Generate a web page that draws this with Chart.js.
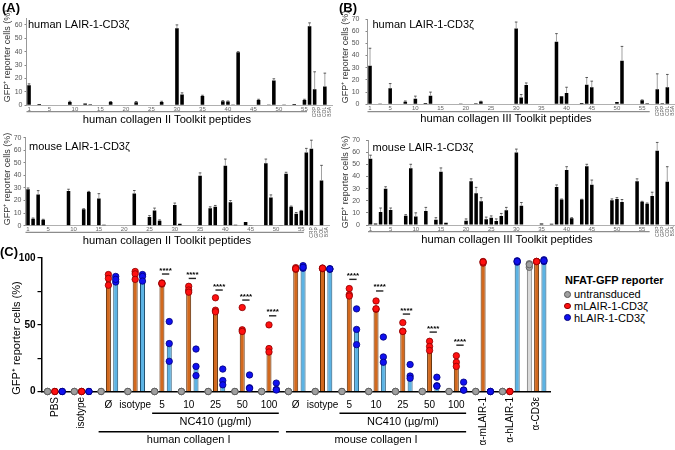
<!DOCTYPE html>
<html>
<head>
<meta charset="utf-8">
<script src="https://cdn.jsdelivr.net/npm/chart.js@4.4.1/dist/chart.umd.min.js"></script>
<style>
html,body{margin:0;padding:0;background:#fff;}
body{position:relative;width:675px;height:450px;overflow:hidden;font-family:"Liberation Sans",Arial,Helvetica,sans-serif;}
canvas{position:absolute;}
.t{position:absolute;white-space:nowrap;line-height:1;}
.dot{position:absolute;border-radius:50%;box-sizing:border-box;}
</style>
</head>
<body>
<canvas id="aTop" width="334" height="127" style="left:0;top:0"></canvas>
<canvas id="aBot" width="334" height="121" style="left:0;top:127px"></canvas>
<canvas id="bTop" width="340" height="127" style="left:335px;top:0"></canvas>
<canvas id="bBot" width="340" height="121" style="left:335px;top:127px"></canvas>
<canvas id="cChart" width="555" height="200" style="left:0;top:250px"></canvas>
<script>
// ---------------- DATA ----------------
const controlLabels = ['CRP', 'GPP', 'COL', 'BSA'];
const shownTicks = ['1','5','10','15','20','25','30','35','40','45','50','55'];
const colIIPeptideCount = 56;
const colIIIPeptideCount = 57;

// (A) human LAIR-1-CD3ζ on collagen II Toolkit (56 peptides + 4 controls)
const humanColII = [15,0,1,0,0,0,0,0,2.5,0, 0,1.3,0.8,0,0,0,2.4,0,0,0, 0,2.3,0,0,0,0.4,2.4,0,0,57.5,
  8,0,0,0,7,0.5,0,0.5,3,2.8, 0.3,39.5,0,0.5,0,4,0,0.3,18.5,0, 0.2,0,1,0,4,59, 12,0.5,14,0];
const humanColIISD = [1,0,0,0,0,0,0,0,0.5,0, 0,0,0,0,0,0,0.4,0,0,0, 0,0.5,0,0,0,0,0.6,0,0,2.5,
  1.3,0,0,0,0.5,0,0,0,0.5,0.4, 0,0.5,0,0,0,0.5,0,0,1.3,0, 0,0,0,0,0.5,2.5, 13,0,10,0];

// (A) mouse LAIR-1-CD3ζ on collagen II Toolkit
const mouseColII = [28.9,5.6,24.9,4.8,0,0,0,0,27.6,0, 0,13,26.8,0,21.7,0.8,0,0,0.3,0, 0,25.7,0.3,0,7,12,4,0,0,16.4,
  1.5,0,0,0,39.8,0.3,13.8,15.1,0,47.7, 18.6,0.8,0,2.9,0.5,0,0,49.6,22.5,0, 0.5,41.4,15.1,9.5,11.9,58.3, 61.3,0.3,36,0];
const mouseColIISD = [1.1,0.5,3,0.3,0,0,0,0,1.4,0, 0,0.5,0.5,0,3.8,0,0,0,0,0, 0,2.3,0,0,1,2,0.6,0,0,1.6,
  0,0,0,0,2.2,0,1.2,1,0,5.3, 1.4,0,0,0,0,0,0,3.4,2,0, 0,1.1,0.5,1,0.3,3.2, 6.7,0,12,0];

// (B) human LAIR-1-CD3ζ on collagen III Toolkit (57 peptides + 4 controls)
const humanColIII = [31.7,0,0.3,0,13.1,0,0,2,0,4.6, 0,1,7.1,0.5,0,0,0,0,0.3,0, 0,0.8,2.2,0,0,0,0,0,0,62.3,
  5.5,15.9,0,0,0,0,0,51.4,6.6,9.3, 0,0,1,16.1,13.9,0,0,0,0,1.8, 35.8,0,0,0.5,3.3,0.8,0, 12.3,0.8,13.9,0];
const humanColIIISD = [14.3,0,0,0,3.9,0,0,0.7,0,2.1, 0,0,2.9,0,0,0,0,0,0,0, 0,0,0.3,0,0,0,0,0,0,5.2,
  2.5,1.6,0,0,0,0,0,6.6,0,4.7, 0,0,0,5.9,5.1,0,0,0,0,0, 11.7,0,0,0,0.3,0,0, 12.7,0,10.6,0];

// (B) mouse LAIR-1-CD3ζ on collagen III Toolkit
const mouseColIII = [54.6,1.2,10.7,29.9,12.4,0,0,7.7,46.7,6.9, 0,11.5,0,4.4,43.9,1.8,0,0,0,3.6, 36,26.1,19.5,4.7,6,3.3,7.4,12.1,0,59.8,
  15.9,0,0,0,1.3,0,1.0,31.3,20.9,45.3, 5.5,0,20.9,48.3,33.2,0,0,0,20.3,21.4, 18.9,0,0,36,19.2,17.6,23.9, 61.2,0.5,35.7,0];
const mouseColIIISD = [2.9,0,3.3,1.6,1.6,0,0,0.8,3.3,3.1, 0,3,0,1.6,3.1,0,0,0,0,1.4, 2,4.9,3,1.8,1.5,1.7,2.1,2.4,0,2.7,
  2.6,0,0,0,0,0,0,1.7,0.5,2.7, 0.5,0,0.3,1.7,3.8,0,0,0,1.2,1.1, 2.1,0,0,2,0.3,0.5,3.1, 6.8,0,12.3,0];

// (C) NFAT-GFP reporter with NC410 blocking
const cGroups = ['PBS','isotype','Ø','isotype','5','10','25','50','100','Ø','isotype','5','10','25','50','100','α-mLAIR-1','α-hLAIR-1','α-CD3ε'];
const untransducedBars = [0,0,0,0,0,0,0,0,0,0,0,0,0,0,0,0,0,0,95];
const mLAIRBars = [0,0,85,87,81,76,61,46,31,92,92.3,72.6,62,45.2,33.7,21.9,97,0,97.4];
const hLAIRBars = [0,0,84,86.2,35.9,18.8,8.2,2.8,1.6,93,91.8,46.5,25.9,11.6,4.3,1.1,0,97.5,98];
const untransducedReps = [[0,0,0],[0,0,0],[0,0,0],[0,0,0],[0,0,0],[0,0,0],[0,0,0],[0,0,0],[0,0,0],[0,0,0],
  [0,0,0],[0,0,0],[0,0,0],[0,0,0],[0,0,0],[0,0,0],[0,0,0],[0,0,0],[95.7,93,95]];
const mLAIRReps = [[0,0,0],[0,0,0],[87.6,84.7,79.6],[89.9,88.1,84],[81.3,80.5,81],[78.8,76,74.4],[70.2,60.9,59.7],
  [62.9,46.2,45],[49.9,32.2,29.6],[92.8,91.5,92],[92.5,92,92.3],[77.1,72.6,71.5],[67.8,61.6,62],[51.6,45.2,45],
  [37.6,33.7,30.7],[26.8,21.9,18.8],[97.4,96.2,97],[0,0,0],[97.4,97.4,97.4]];
const hLAIRReps = [[0,0,0],[0,0,0],[86.2,82,84],[87.6,86.2,82.7],[52.4,35.9,22.6],[31.8,18.8,11.9],[16.8,8.2,5],
  [12.4,2.8,2.3],[6.3,1.6,1.1],[94.3,92.3,93],[91.5,92,91.8],[61.9,46.5,35.1],[40.8,25.9,21.9],[20.2,11.6,9.9],
  [10.7,4.3,4],[7,1.1,1],[0,0,0],[97.9,96.9,97.5],[98.7,97.4,98]];
const sigGroups = [4,5,6,7,8,11,12,13,14,15];
const sigLevels = [88,84.7,76,68.5,56.7,84,75.3,58,44.5,34.7];
const sigText = '****';
const brackets = [
  {from:4, to:8, text:'NC410 (µg/ml)', row:0},
  {from:2, to:8, text:'human collagen I', row:1},
  {from:11, to:15, text:'NC410 (µg/ml)', row:0},
  {from:9, to:15, text:'mouse collagen I', row:1}
];
const legendTitle = 'NFAT-GFP reporter';
const seriesNames = ['untransduced', 'mLAIR-1-CD3ζ', 'hLAIR-1-CD3ζ'];

// ---------------- STYLE / HELPERS ----------------
const FF = '"Liberation Sans", Arial, Helvetica, sans-serif';
Chart.defaults.font.family = FF;
const dotFill = ['#a0a0a0', '#ff1010', '#1010f0'];
const dotEdge = ['#555555', '#8a0000', '#00007a'];
const barFill = ['#dadada', '#d2691e', '#5cb3e4'];
const barEdge = ['#6a6a6a', '#5a2a05', '#1f4f6e'];

function addText(txt, x, y, size, o) {
  o = o || {};
  const d = document.createElement('div');
  d.className = 't';
  d.textContent = txt;
  d.style.fontSize = size + 'px';
  if (o.bold) d.style.fontWeight = 'bold';
  d.style.color = o.color || '#000';
  d.style.left = x + 'px';
  d.style.top = y + 'px';
  const ax = o.anchor === 'left' ? '0' : '-50%';
  d.style.transform = 'translate(' + ax + ',-50%)' + (o.rot ? ' rotate(-90deg)' : '');
  document.body.appendChild(d);
}

const errPlugin = {
  id: 'errbars',
  afterDatasetsDraw(chart, args, o) {
    const errs = o.errors; if (!errs) return;
    const meta = chart.getDatasetMeta(0), ys = chart.scales.y, ctx = chart.ctx;
    const vals = chart.data.datasets[0].data;
    ctx.save();
    ctx.lineWidth = 0.8;
    meta.data.forEach((bar, i) => {
      const sd = errs[i]; if (!sd) return;
      const y1 = ys.getPixelForValue(vals[i]), y2 = ys.getPixelForValue(vals[i] + sd);
      ctx.strokeStyle = '#8a8a8a';
      ctx.beginPath(); ctx.moveTo(bar.x, y1); ctx.lineTo(bar.x, y2); ctx.stroke();
      ctx.strokeStyle = '#333';
      ctx.beginPath(); ctx.moveTo(bar.x - 1.3, y2); ctx.lineTo(bar.x + 1.3, y2); ctx.stroke();
    });
    ctx.restore();
  }
};

const toolkitPlugin = {
  id: 'toolkit',
  afterDraw(chart, args, o) {
    const xs = chart.scales.x, ctx = chart.ctx, b = chart.chartArea.bottom;
    const half = (xs.getPixelForValue(1) - xs.getPixelForValue(0)) / 2;
    ctx.save();
    ctx.strokeStyle = '#8c8c8c'; ctx.lineWidth = 1.3;
    const y = b + o.lineOffset;
    ctx.beginPath(); ctx.moveTo(xs.left, y); ctx.lineTo(xs.getPixelForValue(o.nPep - 2) + half, y); ctx.stroke();
    ctx.fillStyle = '#555'; ctx.font = '5px ' + FF;
    ctx.textAlign = 'right'; ctx.textBaseline = 'middle';
    controlLabels.forEach((lab, k) => {
      ctx.save();
      ctx.translate(xs.getPixelForValue(o.nPep + k), b + 1.5);
      ctx.rotate(-Math.PI / 2);
      ctx.fillText(lab, 0, 0);
      ctx.restore();
    });
    ctx.restore();
  }
};

function toolkitChart(id, values, sds, nPep, g) {
  const labels = [];
  for (let i = 1; i <= nPep; i++) labels.push(String(i));
  controlLabels.forEach(c => labels.push(c));
  return new Chart(document.getElementById(id), {
    type: 'bar',
    data: { labels, datasets: [{ data: values, backgroundColor: '#000', barPercentage: 0.7, categoryPercentage: 1 }] },
    options: {
      responsive: false, animation: false, events: [],
      layout: { padding: { top: g.padTop, right: g.padRight, left: 0, bottom: 0 } },
      plugins: { legend: { display: false }, tooltip: { enabled: false },
        errbars: { errors: sds }, toolkit: { nPep, lineOffset: g.lineOffset } },
      scales: {
        x: {
          grid: { display: false, drawTicks: false, tickLength: 0 }, border: { display: true, color: '#b0b0b0', width: 1 },
          ticks: { autoSkip: false, maxRotation: 0, minRotation: 0, padding: 0.5, color: '#666', font: { size: 6 },
            callback: (v, i) => shownTicks.includes(labels[i]) ? labels[i] : '' },
          afterFit: s => { s.height = g.xH; }
        },
        y: {
          min: 0, max: g.max,
          grid: { drawOnChartArea: false, tickLength: 2, color: '#888' },
          border: { color: '#999', width: 1 },
          ticks: { stepSize: 10, includeBounds: false, padding: g.tickPad, color: '#555', font: { size: 7 } },
          afterFit: s => { s.width = g.yW; }
        }
      }
    },
    plugins: [errPlugin, toolkitPlugin]
  });
}

toolkitChart('aTop', humanColII, humanColIISD, colIIPeptideCount, { padTop: 18.2, padRight: 1.5, xH: 21.7, yW: 26.5, max: 65, lineOffset: 6.4, tickPad: 2 });
toolkitChart('aBot', mouseColII, mouseColIISD, colIIPeptideCount, { padTop: 10.7, padRight: 4.9, xH: 22.3, yW: 25.5, max: 70, lineOffset: 6.6, tickPad: 2 });
toolkitChart('bTop', humanColIII, humanColIIISD, colIIIPeptideCount, { padTop: 19, padRight: 0.1, xH: 22.7, yW: 32.5, max: 70, lineOffset: 7.4, tickPad: 6 });
toolkitChart('bBot', mouseColIII, mouseColIIISD, colIIIPeptideCount, { padTop: 13, padRight: 0.2, xH: 23, yW: 33, max: 70, lineOffset: 6.7, tickPad: 6 });

// ---------------- PANEL C ----------------
const rotatedLabels = [0, 1, 16, 17, 18];
const replicateSets = [untransducedReps, mLAIRReps, hLAIRReps];

const cPlugin = {
  id: 'cdecor',
  afterDatasetsDraw(chart) {
    const ctx = chart.ctx, y = chart.scales.y;
    ctx.save();
    // replicate dots, placed on each bar's x through the bar elements and the y scale
    replicateSets.forEach((reps, k) => {
      const meta = chart.getDatasetMeta(k);
      ctx.fillStyle = dotFill[k]; ctx.strokeStyle = dotEdge[k]; ctx.lineWidth = 0.8;
      reps.forEach((r, i) => {
        const bx = meta.data[i].x;
        r.forEach(v => {
          ctx.beginPath(); ctx.arc(bx, y.getPixelForValue(v), 3.2, 0, Math.PI * 2);
          ctx.fill(); ctx.stroke();
        });
      });
    });
    // significance marks between mLAIR and hLAIR bars
    const mMeta = chart.getDatasetMeta(1), hMeta = chart.getDatasetMeta(2);
    sigGroups.forEach((gi, k) => {
      const yy = y.getPixelForValue(sigLevels[k]);
      const x1 = mMeta.data[gi].x, x2 = hMeta.data[gi].x;
      ctx.strokeStyle = '#222'; ctx.lineWidth = 1.4;
      ctx.beginPath(); ctx.moveTo(x1, yy); ctx.lineTo(x2, yy); ctx.stroke();
      ctx.fillStyle = '#000'; ctx.font = 'bold 8px ' + FF;
      ctx.textAlign = 'center'; ctx.textBaseline = 'middle';
      ctx.fillText(sigText, (x1 + x2) / 2, yy - 3.7);
    });
    ctx.restore();
  },
  afterDraw(chart) {
    const ctx = chart.ctx, xc = chart.scales.x, b = chart.chartArea.bottom;
    const w = xc.getPixelForValue(1) - xc.getPixelForValue(0);
    ctx.save();
    ctx.fillStyle = '#000';
    ctx.font = '10px ' + FF;
    cGroups.forEach((lab, i) => {
      const x = xc.getPixelForValue(i);
      if (rotatedLabels.includes(i)) {
        ctx.save();
        ctx.translate(x, b + 5.5);
        ctx.rotate(-Math.PI / 2);
        ctx.textAlign = 'right'; ctx.textBaseline = 'middle';
        ctx.fillText(lab, 0, 0);
        ctx.restore();
      } else {
        ctx.textAlign = 'center'; ctx.textBaseline = 'middle';
        ctx.fillText(lab, x, b + 13.5);
      }
    });
    const lineY = [21.8, 40.2], textY = [30.2, 48.5];
    ctx.font = '11px ' + FF;
    ctx.strokeStyle = '#000'; ctx.lineWidth = 1.5;
    brackets.forEach(br => {
      const x1 = xc.getPixelForValue(br.from) - 0.366 * w, x2 = xc.getPixelForValue(br.to) + 0.366 * w;
      ctx.beginPath(); ctx.moveTo(x1, b + lineY[br.row]); ctx.lineTo(x2, b + lineY[br.row]); ctx.stroke();
      ctx.textAlign = 'center'; ctx.textBaseline = 'middle';
      ctx.fillText(br.text, (x1 + x2) / 2, b + textY[br.row]);
    });
    ctx.restore();
  }
};

const barSets = [untransducedBars, mLAIRBars, hLAIRBars].map((d, k) => ({
  label: seriesNames[k], data: d, backgroundColor: barFill[k], borderColor: barEdge[k],
  borderWidth: 1, barPercentage: 0.68, categoryPercentage: 0.82
}));

new Chart(document.getElementById('cChart'), {
  type: 'bar',
  data: { labels: cGroups, datasets: barSets },
  options: {
    responsive: false, animation: false, events: [],
    layout: { padding: { top: 5.1, right: 5, left: 0, bottom: 0 } },
    plugins: { legend: { display: false }, tooltip: { enabled: false } },
    scales: {
      x: { grid: { display: false, drawTicks: false }, border: { color: '#000', width: 1.5 }, ticks: { display: false },
        afterFit: s => { s.height = 58.5; } },
      y: { min: 0, max: 100,
        grid: { drawOnChartArea: false, tickLength: 4, color: '#000', lineWidth: 1.2 },
        border: { color: '#000', width: 1.5 },
        ticks: { stepSize: 25, padding: 2, color: '#000', font: { size: 10, weight: 'bold' },
          callback: v => (v % 50 === 0 ? String(v) : '') },
        afterFit: s => { s.width = 41.5; } }
    }
  },
  plugins: [cPlugin]
});

// ---------------- TEXT OVERLAYS ----------------
addText('(A)', 2, 7, 13, { bold: true, anchor: 'left' });
addText('(B)', 339, 7, 13, { bold: true, anchor: 'left' });
addText('(C)', 0, 251, 13, { bold: true, anchor: 'left' });
addText('human LAIR-1-CD3ζ', 28, 24, 11, { anchor: 'left' });
addText('mouse LAIR-1-CD3ζ', 29, 146, 11, { anchor: 'left' });
addText('human LAIR-1-CD3ζ', 372.5, 24, 11, { anchor: 'left' });
addText('mouse LAIR-1-CD3ζ', 372.5, 147, 11, { anchor: 'left' });
const yTitle = 'GFP⁺ reporter cells (%)';
addText(yTitle, 6.5, 56, 9, { rot: true, color: '#333' });
addText(yTitle, 6.5, 179, 9, { rot: true, color: '#333' });
addText(yTitle, 345, 57, 9, { rot: true, color: '#333' });
addText(yTitle, 345, 182, 9, { rot: true, color: '#333' });
addText('human collagen II Toolkit peptides', 167, 120, 11.2);
addText('human collagen II Toolkit peptides', 167, 241, 11.2);
addText('human collagen III Toolkit peptides', 506, 118.5, 11.2);
addText('human collagen III Toolkit peptides', 507, 240, 11.2);
addText(yTitle, 16, 338, 11, { rot: true });

// legend
addText(legendTitle, 565, 280, 11, { bold: true, anchor: 'left' });
seriesNames.forEach((n, k) => {
  const cy = 294.2 + k * 11.7;
  const d = document.createElement('div');
  d.className = 'dot';
  d.style.cssText = 'left:' + (567.3 - 3.4) + 'px;top:' + (cy - 3.4) + 'px;width:6.8px;height:6.8px;background:' +
    dotFill[k] + ';border:0.8px solid ' + dotEdge[k] + ';';
  document.body.appendChild(d);
  addText(n, 574, cy, 11, { anchor: 'left' });
});
</script>
</body>
</html>
